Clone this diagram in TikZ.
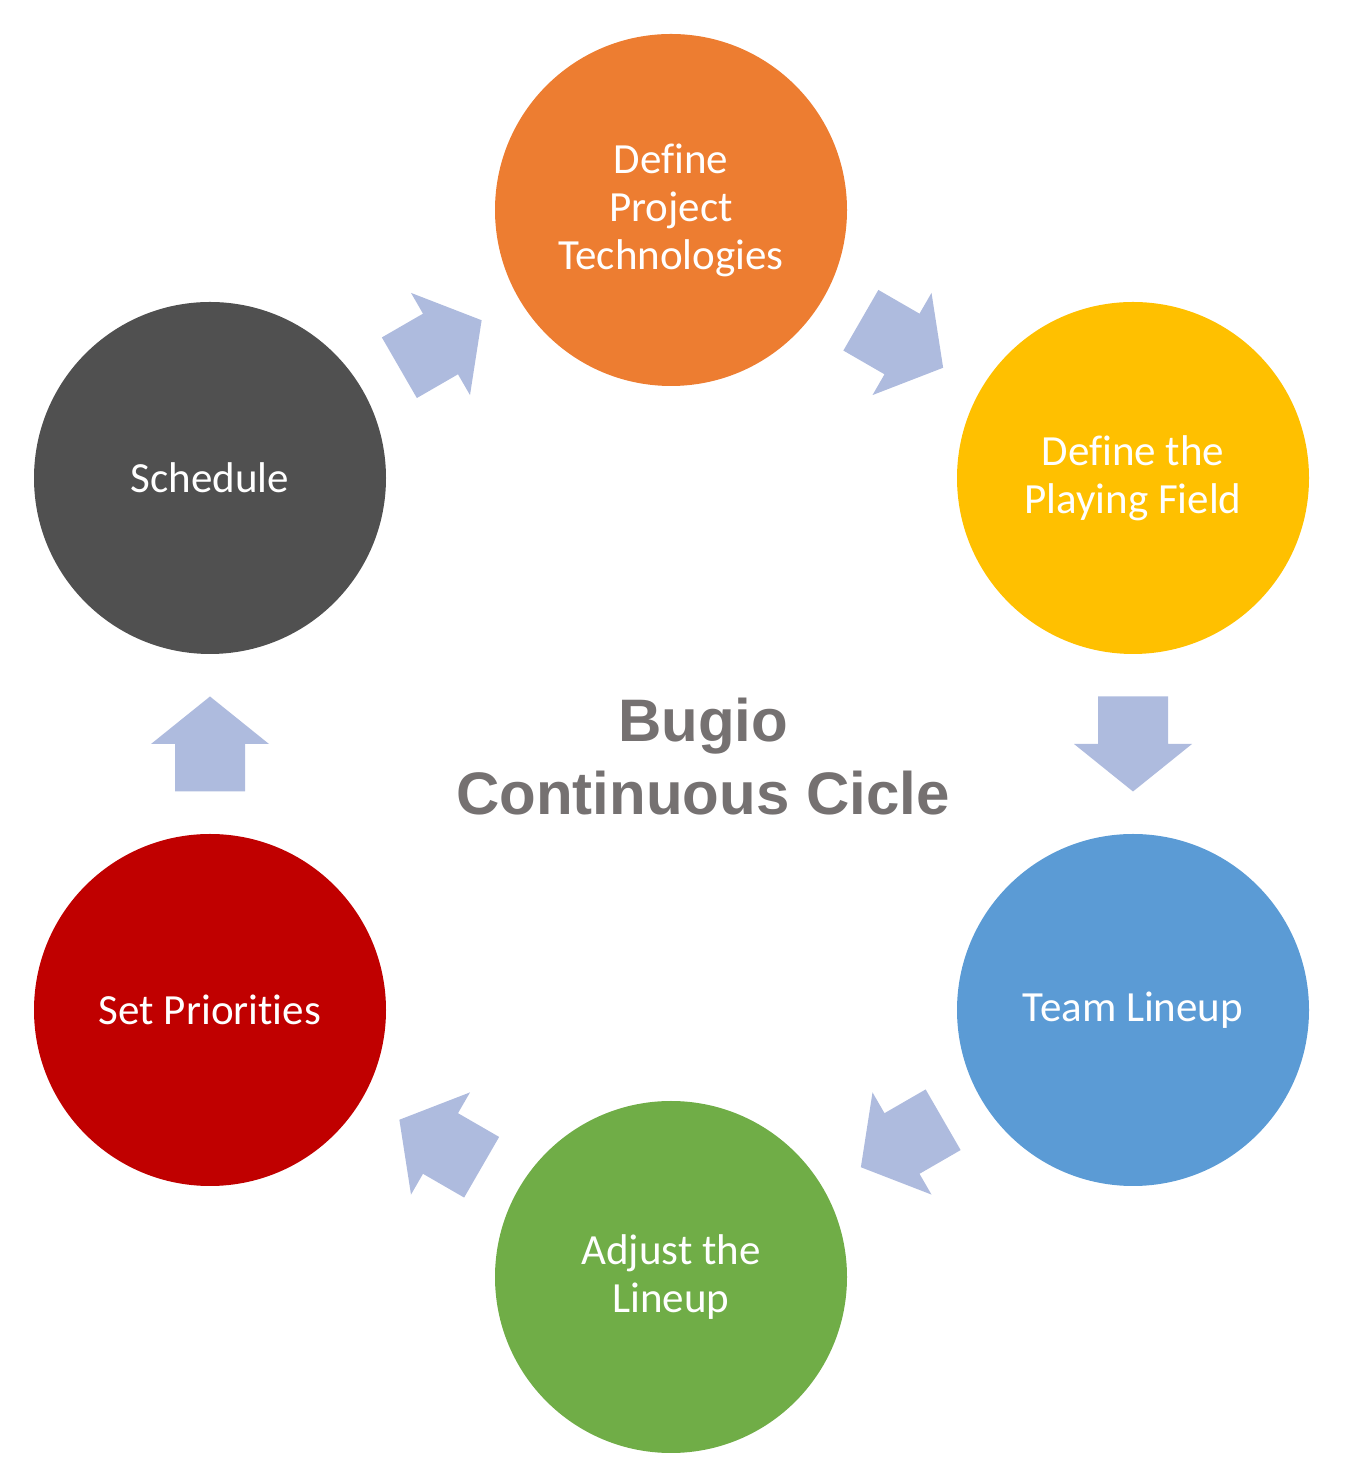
\documentclass[tikz,border=0pt]{standalone}
\usepackage{fontspec}
\setmainfont{Carlito}[Ligatures={NoCommon}]
\newfontfamily\titlefont{Liberation Sans}
\usetikzlibrary{calc}
\definecolor{corange}{RGB}{237,125,49}
\definecolor{cyellow}{RGB}{255,192,0}
\definecolor{cblue}{RGB}{91,155,213}
\definecolor{cgreen}{RGB}{112,173,71}
\definecolor{cred}{RGB}{192,0,0}
\definecolor{cdark}{RGB}{80,80,80}
\definecolor{carrow}{RGB}{174,187,222}
\definecolor{ctitle}{RGB}{117,113,113}
\begin{document}
\begin{tikzpicture}[x=0.5pt,y=0.5pt,
  stage/.style={circle, minimum size=176pt, inner sep=0pt, text=white, align=center,
    font=\fontsize{21.5}{24}\selectfont},
  blockarrow/.pic={\fill[carrow] (-47.5,-35) -- (0,-35) -- (0,-59) -- (47.5,0) -- (0,59) -- (0,35) -- (-47.5,35) -- cycle;},
  title/.style={text=ctitle, align=center, font=\titlefont\bfseries\fontsize{30}{36.5}\selectfont}]
\useasboundingbox (0,0) rectangle (1346,1483);
\node[stage, fill=corange] (tech) at (671,1273) {Define\\Project\\Technologies};
\node[stage, fill=cyellow] (field) at (1133,1005) {Define the\\Playing Field};
\node[stage, fill=cblue] (team) at (1133,473) {Team Lineup};
\node[stage, fill=cgreen] (adjust) at (671,206) {Adjust the\\Lineup};
\node[stage, fill=cred] (prio) at (210,473) {Set Priorities};
\node[stage, fill=cdark] (sched) at (210,1005) {Schedule};
\node[title] (ttl) at (703,726) {Bugio\\Continuous Cicle};
\pic[rotate=-30] at ($(tech)!0.5!(field)$) {blockarrow};
\pic[rotate=-90] at ($(field)!0.5!(team)$) {blockarrow};
\pic[rotate=-150] at ($(team)!0.5!(adjust)$) {blockarrow};
\pic[rotate=150] at ($(adjust)!0.5!(prio)$) {blockarrow};
\pic[rotate=90] at ($(prio)!0.5!(sched)$) {blockarrow};
\pic[rotate=30] at ($(sched)!0.5!(tech)$) {blockarrow};
\end{tikzpicture}
\end{document}
